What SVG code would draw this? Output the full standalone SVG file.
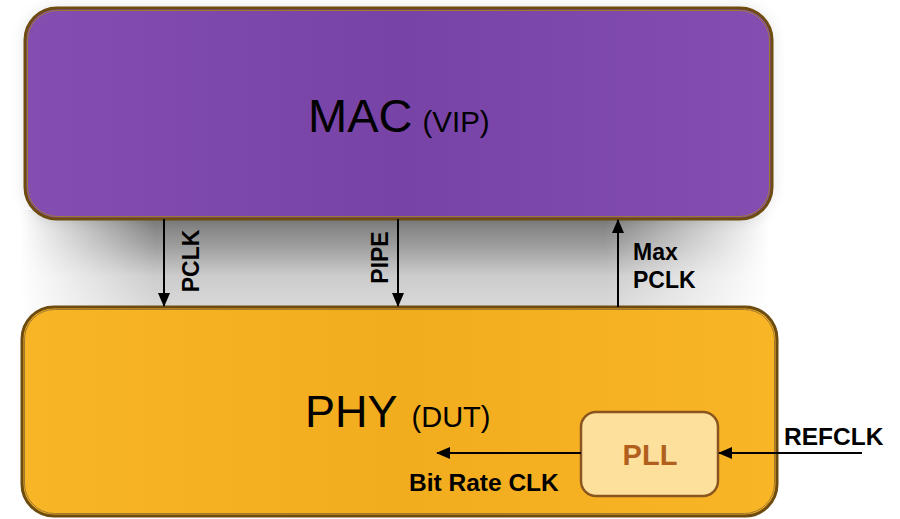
<svg xmlns="http://www.w3.org/2000/svg" width="900" height="519" viewBox="0 0 900 519">
<defs>
<linearGradient id="gMac" x1="0" y1="0" x2="1" y2="0">
<stop offset="0" stop-color="#834eb0"/><stop offset="0.5" stop-color="#7843a6"/><stop offset="1" stop-color="#834eb0"/>
</linearGradient>
<linearGradient id="gPhy" x1="0" y1="0" x2="1" y2="0">
<stop offset="0" stop-color="#f8b525"/><stop offset="0.5" stop-color="#f2ad1e"/><stop offset="1" stop-color="#f8b525"/>
</linearGradient>
<linearGradient id="gShV" x1="0" y1="0" x2="0" y2="1">
<stop offset="0" stop-color="#000" stop-opacity="0.55"/>
<stop offset="0.3" stop-color="#000" stop-opacity="0.4"/>
<stop offset="0.6" stop-color="#000" stop-opacity="0.2"/>
<stop offset="1" stop-color="#000" stop-opacity="0.13"/>
</linearGradient>
<linearGradient id="gShH" x1="0" y1="0" x2="1" y2="0">
<stop offset="0" stop-color="#fff" stop-opacity="0"/>
<stop offset="0.18" stop-color="#fff" stop-opacity="1"/>
<stop offset="0.78" stop-color="#fff" stop-opacity="1"/>
<stop offset="1" stop-color="#fff" stop-opacity="0"/>
</linearGradient>
<mask id="mSh" maskUnits="userSpaceOnUse" x="0" y="0" width="900" height="519">
<rect x="20" y="210" width="750" height="110" fill="url(#gShH)"/>
</mask>
<filter id="soft" x="-10%" y="-20%" width="120%" height="140%"><feGaussianBlur stdDeviation="8"/></filter>
<marker id="ah" markerWidth="14" markerHeight="12" refX="13" refY="6" orient="auto" markerUnits="userSpaceOnUse">
<path d="M0,0 L14,6 L0,12 Z" fill="#000"/>
</marker>
<style>
.box{stroke:#6e4c10;stroke-width:3}
.inner{fill:none;stroke:#a07830;stroke-width:1}
.conn{stroke:#000;stroke-width:2;fill:none;marker-end:url(#ah)}
.lbl{font-family:"Liberation Sans",Arial,sans-serif;font-weight:bold;font-size:23px;fill:#000}
.lbl2{font-family:"Liberation Sans",Arial,sans-serif;font-weight:bold;font-size:24.5px;fill:#000}
.big{font-family:"Liberation Sans",Arial,sans-serif;fill:#000}
</style>
</defs>
<rect width="900" height="519" fill="#fff"/>
<rect x="25" y="8" width="747" height="211" rx="32" fill="#000" opacity="0.12" filter="url(#soft)"/>
<rect x="20" y="210" width="750" height="110" fill="url(#gShV)" mask="url(#mSh)"/>
<g id="mac">
<rect class="box" x="25" y="8" width="747" height="211" rx="32" fill="url(#gMac)"/>
<rect class="inner" x="27.5" y="10.5" width="742" height="206" rx="30"/>
<text class="big" x="308" y="132" font-size="47">MAC<tspan font-size="29.5" dx="10">(VIP)</tspan></text>
</g>
<g id="phy">
<rect class="box" x="22" y="307" width="755" height="209" rx="32" fill="url(#gPhy)"/>
<rect class="inner" x="24.5" y="309.5" width="750" height="204" rx="30"/>
<text class="big" x="305" y="427" font-size="45">PHY<tspan font-size="29" dx="14">(DUT)</tspan></text>
</g>
<g id="pll">
<rect x="581" y="412" width="137" height="84" rx="15" fill="#fde09c" stroke="#8b5520" stroke-width="2.5"/>
<text x="650" y="465" text-anchor="middle" font-family="Liberation Sans,Arial,sans-serif" font-weight="bold" font-size="29" fill="#b0601c">PLL</text>
</g>
<g id="connectors">
<line class="conn" x1="164" y1="219" x2="164" y2="306"/>
<line class="conn" x1="398" y1="219" x2="398" y2="306"/>
<line class="conn" x1="618" y1="307" x2="618" y2="220"/>
<line class="conn" x1="581" y1="453" x2="437" y2="453"/>
<line class="conn" x1="862" y1="453" x2="719" y2="453"/>
</g>
<g id="labels">
<text class="lbl" transform="translate(199,261) rotate(-90)" text-anchor="middle">PCLK</text>
<text class="lbl" transform="translate(388,257.5) rotate(-90)" text-anchor="middle">PIPE</text>
<text class="lbl" x="633" y="260">Max</text>
<text class="lbl" x="633" y="288">PCLK</text>
<text class="lbl2" x="409" y="491">Bit Rate CLK</text>
<text class="lbl2" x="784" y="445">REFCLK</text>
</g>
</svg>
